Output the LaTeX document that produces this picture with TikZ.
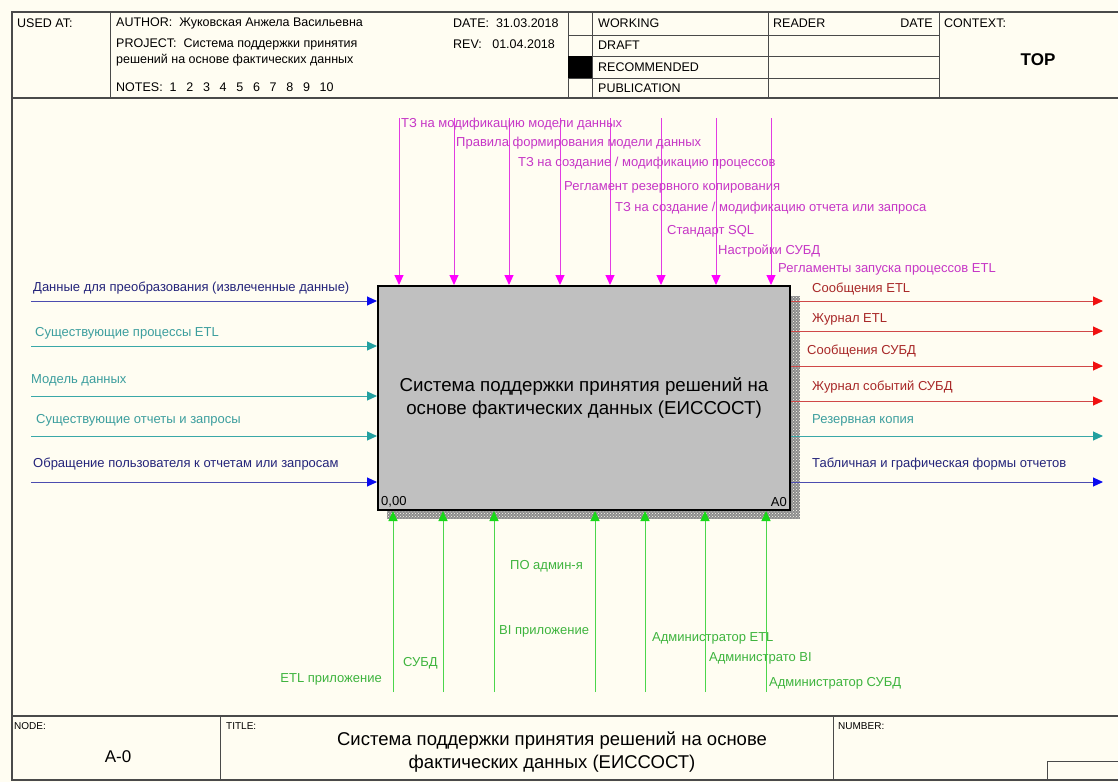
\documentclass[tikz,border=0pt]{standalone}
\usepackage{fontspec}
\setmainfont{Liberation Sans}
\usetikzlibrary{arrows.meta,patterns}
\definecolor{paper}{HTML}{FFFDF2}
\definecolor{framegray}{HTML}{4A4A4A}
\definecolor{boxgray}{HTML}{C0C0C0}
\definecolor{navytext}{HTML}{24247A}
\definecolor{navyline}{HTML}{4C4CB0}
\definecolor{navyhead}{HTML}{0A0AF0}
\definecolor{tealtext}{HTML}{3C9E9E}
\definecolor{tealline}{HTML}{3AA8A8}
\definecolor{tealhead}{HTML}{22A0A0}
\definecolor{magtext}{HTML}{C636C6}
\definecolor{magline}{HTML}{E23CE2}
\definecolor{maghead}{HTML}{FF00FF}
\definecolor{redtext}{HTML}{A82828}
\definecolor{redline}{HTML}{D04848}
\definecolor{redhead}{HTML}{F01010}
\definecolor{greentext}{HTML}{3EB43E}
\definecolor{greenline}{HTML}{4CD64C}
\definecolor{greenhead}{HTML}{18D818}
\newcommand{\notegap}{\enspace\ }
\tikzset{
  frameline/.style={line width=1.3pt,framegray},
  cellline/.style={line width=0.9pt,framegray},
  hdrtext/.style={anchor=west,inner sep=0pt,font=\fontsize{12.5}{14}\selectfont},
  smalltext/.style={anchor=west,inner sep=0pt,font=\fontsize{10}{12}\selectfont},
  lbl/.style={anchor=west,inner sep=0pt,font=\fontsize{13}{15}\selectfont},
  rlbl/.style={lbl,anchor=east},
  navyarrow/.style={-{Triangle[length=10pt,width=9pt,color=navyhead]},line width=1pt,navyline},
  tealarrow/.style={-{Triangle[length=10pt,width=9pt,color=tealhead]},line width=1pt,tealline},
  magarrow/.style={-{Triangle[length=10pt,width=9pt,color=maghead]},line width=1pt,magline},
  redarrow/.style={-{Triangle[length=10pt,width=9pt,color=redhead]},line width=1pt,redline},
  greenarrow/.style={-{Triangle[length=10pt,width=9pt,color=greenhead]},line width=1pt,greenline},
  activity/.style={draw=black,line width=2pt,fill=boxgray,minimum width=412pt,minimum height=224pt,
    align=center,font=\fontsize{18.7}{23}\selectfont}
}

\begin{document}
\begin{tikzpicture}[x=1pt,y=-1pt]
  \useasboundingbox (0,0) rectangle (1118,782);
  \fill[paper] (0,0) rectangle (1118,782);

  % frame, header and footer
  \draw[frameline] (1120,12) -- (12,12) -- (12,780) -- (1120,780);
  \draw[frameline] (12,98) -- (1120,98);
  \draw[cellline] (110,12) -- (110,98);
  \draw[cellline] (568,12) -- (568,98);
  \draw[cellline] (592,12) -- (592,98);
  \draw[cellline] (768,12) -- (768,98);
  \draw[cellline] (939,12) -- (939,98);
  \draw[cellline] (568,35) -- (939,35);
  \draw[cellline] (568,56) -- (939,56);
  \draw[cellline] (568,78) -- (939,78);
  \fill[black] (568,56) rectangle (592,78);
  \draw[frameline] (12,716) -- (1120,716);
  \draw[cellline] (220,716) -- (220,780);
  \draw[cellline] (833,716) -- (833,780);
  \draw[cellline] (1047,780) -- (1047,761) -- (1120,761);

  \node[hdrtext] (usedat) at (17,23) {USED AT:};
  \node[hdrtext] (author) at (116,23) {AUTHOR:\ \ Жуковская Анжела Васильевна};
  \node[hdrtext] (project) at (116,44) {PROJECT:\ \ Система поддержки принятия};
  \node[hdrtext] (project2) at (116,60) {решений на основе фактических данных};
  \node[hdrtext] (notes) at (116,87) {NOTES:\ \ 1\notegap 2\notegap 3\notegap 4\notegap 5\notegap 6\notegap 7\notegap 8\notegap 9\notegap 10};
  \node[hdrtext] (date) at (453,23) {DATE:\ \ 31.03.2018};
  \node[hdrtext] (rev) at (453,44) {REV:\ \ \ 01.04.2018};
  \node[hdrtext] (working) at (598,23) {WORKING};
  \node[hdrtext] (draft) at (598,45) {DRAFT};
  \node[hdrtext] (recommended) at (598,67) {RECOMMENDED};
  \node[hdrtext] (publication) at (598,88) {PUBLICATION};
  \node[hdrtext] (reader) at (773,23) {READER};
  \node[hdrtext,anchor=east] (readerdate) at (933,23) {DATE};
  \node[hdrtext] (context) at (944,23) {CONTEXT:};
  \node[font=\fontsize{17}{19}\selectfont\bfseries] (top) at (1038,60) {TOP};

  \node[smalltext] (nodehead) at (14,726) {NODE:};
  \node[font=\fontsize{17}{20}\selectfont] (nodenum) at (118,757) {A-0};
  \node[smalltext] (titlehead) at (226,726) {TITLE:};
  \node[align=center,font=\fontsize{18.5}{23}\selectfont] (title) at (552,752)
    {Система поддержки принятия решений на основе\\фактических данных (ЕИССОСТ)};
  \node[smalltext] (numberhead) at (838,726) {NUMBER:};

  % activity box with hatched shadow
  \fill[black!45] (387,296) rectangle (800,519);
  \fill[pattern=crosshatch dots,pattern color=paper] (387,296) rectangle (800,519);
  \node[activity] (box) at (584,398)
    {Система поддержки принятия решений на\\основе фактических данных (ЕИССОСТ)};
  \node[lbl,anchor=south west] (boxcost) at ([shift={(4,-4)}]box.south west) {0,00};
  \node[lbl,anchor=south east] (boxnum) at ([shift={(-4,-4)}]box.south east) {A0};

  % inputs
  \coordinate (in1) at (31,301);
  \coordinate (in2) at (31,346);
  \coordinate (in3) at (31,396);
  \coordinate (in4) at (31,436);
  \coordinate (in5) at (31,482);
  \draw[navyarrow] (in1) -- (in1 -| box.west);
  \draw[tealarrow] (in2) -- (in2 -| box.west);
  \draw[tealarrow] (in3) -- (in3 -| box.west);
  \draw[tealarrow] (in4) -- (in4 -| box.west);
  \draw[navyarrow] (in5) -- (in5 -| box.west);
  \node[lbl,navytext] (in1lbl) at (33,288) {Данные для преобразования (извлеченные данные)};
  \node[lbl,tealtext] (in2lbl) at (35,333) {Существующие процессы ETL};
  \node[lbl,tealtext] (in3lbl) at (31,380) {Модель данных};
  \node[lbl,tealtext] (in4lbl) at (36,420) {Существующие отчеты и запросы};
  \node[lbl,navytext] (in5lbl) at (33,464) {Обращение пользователя к отчетам или запросам};

  % controls
  \coordinate (ct1) at (399,118);
  \coordinate (ct2) at (454,118);
  \coordinate (ct3) at (509,118);
  \coordinate (ct4) at (560,118);
  \coordinate (ct5) at (610,118);
  \coordinate (ct6) at (661,118);
  \coordinate (ct7) at (716,118);
  \coordinate (ct8) at (771,118);
  \draw[magarrow] (ct1) -- (ct1 |- box.north);
  \draw[magarrow] (ct2) -- (ct2 |- box.north);
  \draw[magarrow] (ct3) -- (ct3 |- box.north);
  \draw[magarrow] (ct4) -- (ct4 |- box.north);
  \draw[magarrow] (ct5) -- (ct5 |- box.north);
  \draw[magarrow] (ct6) -- (ct6 |- box.north);
  \draw[magarrow] (ct7) -- (ct7 |- box.north);
  \draw[magarrow] (ct8) -- (ct8 |- box.north);
  \node[lbl,magtext] (ct1lbl) at (401,124) {ТЗ на модификацию модели данных};
  \node[lbl,magtext] (ct2lbl) at (456,143) {Правила формирования модели данных};
  \node[lbl,magtext] (ct3lbl) at (518,163) {ТЗ на создание / модификацию процессов};
  \node[lbl,magtext] (ct4lbl) at (564,187) {Регламент резервного копирования};
  \node[lbl,magtext] (ct5lbl) at (615,208) {ТЗ на создание / модификацию отчета или запроса};
  \node[lbl,magtext] (ct6lbl) at (667,231) {Стандарт SQL};
  \node[lbl,magtext] (ct7lbl) at (718,251) {Настройки СУБД};
  \node[lbl,magtext] (ct8lbl) at (778,269) {Регламенты запуска процессов ETL};

  % outputs
  \coordinate (out1) at (1103,301);
  \coordinate (out2) at (1103,331);
  \coordinate (out3) at (1103,366);
  \coordinate (out4) at (1103,401);
  \coordinate (out5) at (1103,436);
  \coordinate (out6) at (1103,482);
  \draw[redarrow] (out1 -| box.east) -- (out1);
  \draw[redarrow] (out2 -| box.east) -- (out2);
  \draw[redarrow] (out3 -| box.east) -- (out3);
  \draw[redarrow] (out4 -| box.east) -- (out4);
  \draw[tealarrow] (out5 -| box.east) -- (out5);
  \draw[navyarrow] (out6 -| box.east) -- (out6);
  \node[lbl,redtext] (out1lbl) at (812,289) {Сообщения ETL};
  \node[lbl,redtext] (out2lbl) at (812,319) {Журнал ETL};
  \node[lbl,redtext] (out3lbl) at (807,351) {Сообщения СУБД};
  \node[lbl,redtext] (out4lbl) at (812,387) {Журнал событий СУБД};
  \node[lbl,tealtext] (out5lbl) at (812,420) {Резервная копия};
  \node[lbl,navytext] (out6lbl) at (812,464) {Табличная и графическая формы отчетов};

  % mechanisms
  \coordinate (mc1) at (393,692);
  \coordinate (mc2) at (443,692);
  \coordinate (mc3) at (494,692);
  \coordinate (mc4) at (595,692);
  \coordinate (mc5) at (645,692);
  \coordinate (mc6) at (705,692);
  \coordinate (mc7) at (766,692);
  \draw[greenarrow] (mc1) -- (mc1 |- box.south);
  \draw[greenarrow] (mc2) -- (mc2 |- box.south);
  \draw[greenarrow] (mc3) -- (mc3 |- box.south);
  \draw[greenarrow] (mc4) -- (mc4 |- box.south);
  \draw[greenarrow] (mc5) -- (mc5 |- box.south);
  \draw[greenarrow] (mc6) -- (mc6 |- box.south);
  \draw[greenarrow] (mc7) -- (mc7 |- box.south);
  \node[rlbl,greentext] (mc1lbl) at (382,679) {ETL приложение};
  \node[lbl,greentext] (mc2lbl) at (403,663) {СУБД};
  \node[lbl,greentext] (mc3lbl) at (499,631) {BI приложение};
  \node[rlbl,greentext] (mc4lbl) at (583,566) {ПО админ-я};
  \node[lbl,greentext] (mc5lbl) at (652,638) {Администратор ETL};
  \node[lbl,greentext] (mc6lbl) at (709,658) {Администрато BI};
  \node[lbl,greentext] (mc7lbl) at (769,683) {Администратор СУБД};
\end{tikzpicture}
\end{document}
